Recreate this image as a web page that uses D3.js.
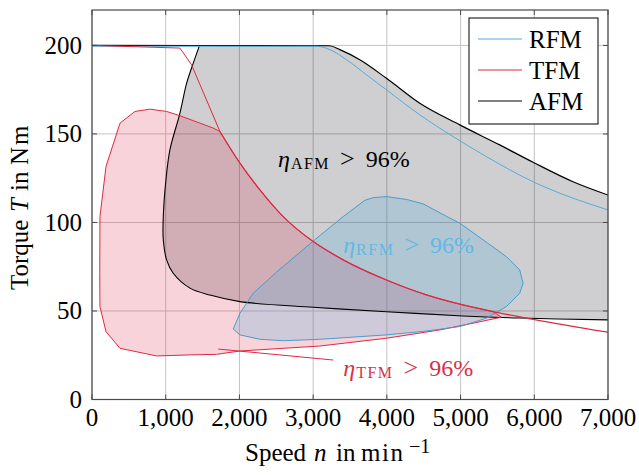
<!DOCTYPE html>
<html>
<head>
<meta charset="utf-8">
<script src="https://cdn.jsdelivr.net/npm/d3@7"></script>
<style>
  body { margin: 0; background: #fff; }
  svg { display: block; }
  text { font-family: "Liberation Serif", "Times New Roman", "DejaVu Serif", serif; }
</style>
</head>
<body>
<svg id="chart" width="639" height="475"></svg>
<script>
// ---- data (speed in min^-1, torque in Nm) ----
var speedTicks = [0, 1000, 2000, 3000, 4000, 5000, 6000, 7000];
var torqueTicks = [0, 50, 100, 150, 200];
var machines = ["RFM", "TFM", "AFM"];

// max torque curves
var rfmMaxTorque = [[0, 199.5], [3050, 199.5], [3227, 197.6], [3453, 191.9], [3724, 183.4], [3995, 174.9],
                    [4447, 160.8], [4898, 148.5], [5350, 137.2], [5983, 123], [6525, 113.7], [7000, 107.1]];
var afmMaxTorque = [[0, 200], [3223, 199.8], [3362, 197.6], [3633, 191.9], [3995, 181.4], [4447, 167.3],
                    [4989, 155.1], [5531, 143.8], [5983, 134], [6525, 123], [7000, 115.5]];
var tfmMaxTorque = [[0, 200], [1193, 198.5], [1351, 189], [1735, 151.4], [2007, 133.5], [2278, 118.4],
                    [2594, 103.3], [3001, 89.2], [3407, 78.9], [3995, 67.5], [4537, 59.1], [5034, 53.4],
                    [5441, 49.6], [5983, 45.3], [7000, 38]];

// eta > 96 % regions
// AFM: lower boundary from right edge going left and up to the max torque line
var afmIslandEdge = [[7000, 45], [5802, 46], [5034, 47.2], [3995, 49.6], [3001, 52.1], [2007, 55.3],
                     [1600, 59], [1329, 62.9], [1102, 71.3], [1012, 78.9], [967, 90.2],
                     [967, 103.3], [1003, 124], [1057, 141], [1193, 161.8], [1284, 178.7], [1374, 190],
                     [1455, 199.6]];
// TFM: left/top edge, then follows max torque, then tip and lower edge
var tfmIslandTop = [[108, 52.5], [105, 71.3], [108, 103.3], [190, 131.6], [380, 156.1], [583, 162.7],
                    [786, 164], [1012, 162.7], [1193, 160.3], [1464, 156.1], [1645, 153.3], [1735, 151.4]];
var tfmIslandBottom = [[5554, 46.5], [5170, 43.1], [4718, 39.3], [3995, 34.6], [3090, 30.2], [2007, 27.4],
                       [1690, 25.5], [1329, 25.2], [877, 24.6], [380, 28.9], [190, 38.3], [108, 52.5]];
var rfmIsland = [[1915, 39.8], [2007, 48.7], [2187, 60], [2504, 72], [3001, 89.5], [3407, 103.3],
                 [3701, 112.5], [3814, 114], [3995, 114.6], [4266, 113], [4492, 110.5], [4853, 102.5],
                 [4989, 99.6], [5305, 90.2], [5622, 80.7], [5802, 73.2], [5848, 65.7], [5802, 60],
                 [5622, 52.5], [5350, 45.9], [4989, 41.2], [4500, 38.5], [3995, 36.5], [3090, 34],
                 [2594, 33.2], [2278, 34], [2007, 36.5]];
var tfmPointer = [[1713, 28.5], [3272, 22.3]];

var regionLabels = [
  {sub: "AFM", speed: 2523, torque: 131.5, color: "#000"},
  {sub: "RFM", speed: 3408, torque: 82.7, color: "#62b8e3"},
  {sub: "TFM", speed: 3409, torque: 13.3, color: "#d8304a"}
];

var colors = {RFM: "#55acd8", TFM: "#dc2a44", AFM: "#000"};

// ---- chart ----
var svg = d3.select("#chart");
var plotL = 92, plotR = 608, plotT = 10, plotB = 399.5;

var x = d3.scaleLinear().domain([0, 7000]).range([plotL, plotR]);
var y = d3.scaleLinear().domain([0, 220]).range([plotB, plotT]);

svg.append("defs").append("clipPath").attr("id", "plot")
  .append("rect").attr("x", plotL).attr("y", plotT).attr("width", plotR - plotL).attr("height", plotB - plotT);

// grid
var grid = svg.append("g").attr("stroke", "#c4c4c4").attr("stroke-width", 1);
grid.selectAll(".gx").data(speedTicks).enter().append("line")
  .attr("x1", function(d) { return x(d); }).attr("x2", function(d) { return x(d); })
  .attr("y1", plotT).attr("y2", plotB);
grid.selectAll(".gy").data(torqueTicks).enter().append("line")
  .attr("y1", function(d) { return y(d); }).attr("y2", function(d) { return y(d); })
  .attr("x1", plotL).attr("x2", plotR);

// join several point lists into one path, each with its own curve
function joined(parts, close) {
  var p = d3.path(), started = false;
  var ctx = {
    moveTo: function(a, b) { if (started) p.lineTo(a, b); else p.moveTo(a, b); started = true; },
    lineTo: function(a, b) { p.lineTo(a, b); },
    bezierCurveTo: function(a, b, c, d, e, f) { p.bezierCurveTo(a, b, c, d, e, f); },
    closePath: function() {}
  };
  parts.forEach(function(part) {
    d3.line().x(function(d) { return x(d[0]); }).y(function(d) { return y(d[1]); })
      .curve(part[1]).context(ctx)(part[0]);
  });
  if (close) p.closePath();
  return p.toString();
}

var smooth = d3.curveCatmullRom.alpha(0.5);
var plot = svg.append("g").attr("clip-path", "url(#plot)");

var afmTop = afmMaxTorque.filter(function(d) { return d[0] >= 1500; });
var tfmTopCurve = tfmMaxTorque.filter(function(d) { return d[0] >= 1735 && d[0] <= 5441; });

// fills
plot.append("path")
  .attr("d", joined([[afmIslandEdge, smooth], [[[1455, 199.8]].concat(afmTop), d3.curveMonotoneX]], true))
  .attr("fill", "#10101c").attr("fill-opacity", 0.2);
plot.append("path")
  .attr("d", joined([[tfmIslandTop, d3.curveLinear], [tfmTopCurve, d3.curveMonotoneX],
                     [tfmIslandBottom, d3.curveLinear]], true))
  .attr("fill", colors.TFM).attr("fill-opacity", 0.2);
plot.append("path")
  .attr("d", d3.line().x(function(d) { return x(d[0]); }).y(function(d) { return y(d[1]); })
    .curve(d3.curveLinearClosed)(rfmIsland))
  .attr("fill", colors.RFM).attr("fill-opacity", 0.25);

// island outlines
plot.append("path").attr("d", joined([[afmIslandEdge, smooth]], false))
  .attr("fill", "none").attr("stroke", colors.AFM).attr("stroke-width", 1.1);
plot.append("path").attr("d", joined([[tfmIslandTop, d3.curveLinear], [tfmTopCurve, d3.curveMonotoneX],
                                      [tfmIslandBottom, d3.curveLinear]], false))
  .attr("fill", "none").attr("stroke", colors.TFM).attr("stroke-width", 1);
plot.append("path")
  .attr("d", d3.line().x(function(d) { return x(d[0]); }).y(function(d) { return y(d[1]); })
    .curve(d3.curveLinearClosed)(rfmIsland))
  .attr("fill", "none").attr("stroke", "#4a9ccb").attr("stroke-width", 1);

// max torque lines
var maxLine = d3.line().x(function(d) { return x(d[0]); }).y(function(d) { return y(d[1]); })
  .curve(d3.curveMonotoneX);
plot.append("path").attr("d", maxLine(afmMaxTorque))
  .attr("fill", "none").attr("stroke", colors.AFM).attr("stroke-width", 1.2);
plot.append("path").attr("d", maxLine(rfmMaxTorque))
  .attr("fill", "none").attr("stroke", colors.RFM).attr("stroke-width", 1);
plot.append("path").attr("d", d3.line().x(function(d) { return x(d[0]); }).y(function(d) { return y(d[1]); })
    .curve(d3.curveLinear)(tfmMaxTorque.slice(0, 4)))
  .attr("fill", "none").attr("stroke", colors.TFM).attr("stroke-width", 1);
plot.append("path").attr("d", maxLine(tfmMaxTorque.slice(3)))
  .attr("fill", "none").attr("stroke", colors.TFM).attr("stroke-width", 1.3);
plot.append("path").attr("d", d3.line().x(function(d) { return x(d[0]); }).y(function(d) { return y(d[1]); })(tfmPointer))
  .attr("fill", "none").attr("stroke", colors.TFM).attr("stroke-width", 1);

// frame + ticks
svg.append("rect").attr("x", plotL).attr("y", plotT).attr("width", plotR - plotL).attr("height", plotB - plotT)
  .attr("fill", "none").attr("stroke", "#4a4a4a").attr("stroke-width", 1.2);
var ticks = svg.append("g").attr("stroke", "#4a4a4a").attr("stroke-width", 1);
speedTicks.forEach(function(d) {
  ticks.append("line").attr("x1", x(d)).attr("x2", x(d)).attr("y1", plotB).attr("y2", plotB - 5);
  ticks.append("line").attr("x1", x(d)).attr("x2", x(d)).attr("y1", plotT).attr("y2", plotT + 5);
});
torqueTicks.forEach(function(d) {
  ticks.append("line").attr("y1", y(d)).attr("y2", y(d)).attr("x1", plotL).attr("x2", plotL + 5);
  ticks.append("line").attr("y1", y(d)).attr("y2", y(d)).attr("x1", plotR).attr("x2", plotR - 5);
});

// tick labels
var fmt = d3.format(",");
svg.append("g").selectAll("text").data(speedTicks).enter().append("text")
  .attr("x", function(d) { return x(d); }).attr("y", 426)
  .attr("text-anchor", "middle").attr("font-size", 25).text(function(d) { return fmt(d); });
svg.append("g").selectAll("text").data(torqueTicks).enter().append("text")
  .attr("x", 82).attr("y", function(d) { return y(d) + 8.5; })
  .attr("text-anchor", "end").attr("font-size", 25).text(function(d) { return fmt(d); });

// axis titles
var xt = svg.append("text").attr("y", 461).attr("font-size", 25);
xt.append("tspan").attr("x", 245).text("Speed");
xt.append("tspan").attr("x", 314).attr("font-style", "italic").text("n");
xt.append("tspan").attr("x", 336).text("in");
xt.append("tspan").attr("x", 361).attr("letter-spacing", 1.5).text("min");
xt.append("tspan").attr("x", 409).attr("dy", -8).attr("font-size", 20).text("\u22121");

var yt = svg.append("text").attr("transform", "translate(28,204) rotate(-90)").attr("font-size", 25);
yt.append("tspan").attr("x", -86).text("Torque");
yt.append("tspan").attr("x", -8).attr("font-style", "italic").text("T");
yt.append("tspan").attr("x", 13).text("in");
yt.append("tspan").attr("x", 39).attr("letter-spacing", 2).text("Nm");

// region labels
regionLabels.forEach(function(l) {
  var t = svg.append("text").attr("x", x(l.speed)).attr("y", y(l.torque))
    .attr("font-size", 24).attr("fill", l.color);
  t.append("tspan").attr("font-style", "italic").text("\u03b7");
  t.append("tspan").attr("dy", 2).attr("dx", 1).attr("font-size", 16).attr("letter-spacing", 1.5).text(l.sub);
  t.append("tspan").attr("dy", -2).attr("dx", 10).attr("font-size", 26).text(">");
  t.append("tspan").attr("dx", 11).text("96%");
});

// legend
var legend = svg.append("g");
legend.append("rect").attr("x", 469).attr("y", 18).attr("width", 129).attr("height", 106)
  .attr("fill", "#fff").attr("stroke", "#000").attr("stroke-width", 1);
machines.forEach(function(m, i) {
  var ly = 39 + i * 31;
  legend.append("line").attr("x1", 478).attr("x2", 522).attr("y1", ly).attr("y2", ly)
    .attr("stroke", colors[m]).attr("stroke-width", 1);
  legend.append("text").attr("x", 529).attr("y", ly + 8.5).attr("font-size", 25).text(m);
});
</script>
</body>
</html>
